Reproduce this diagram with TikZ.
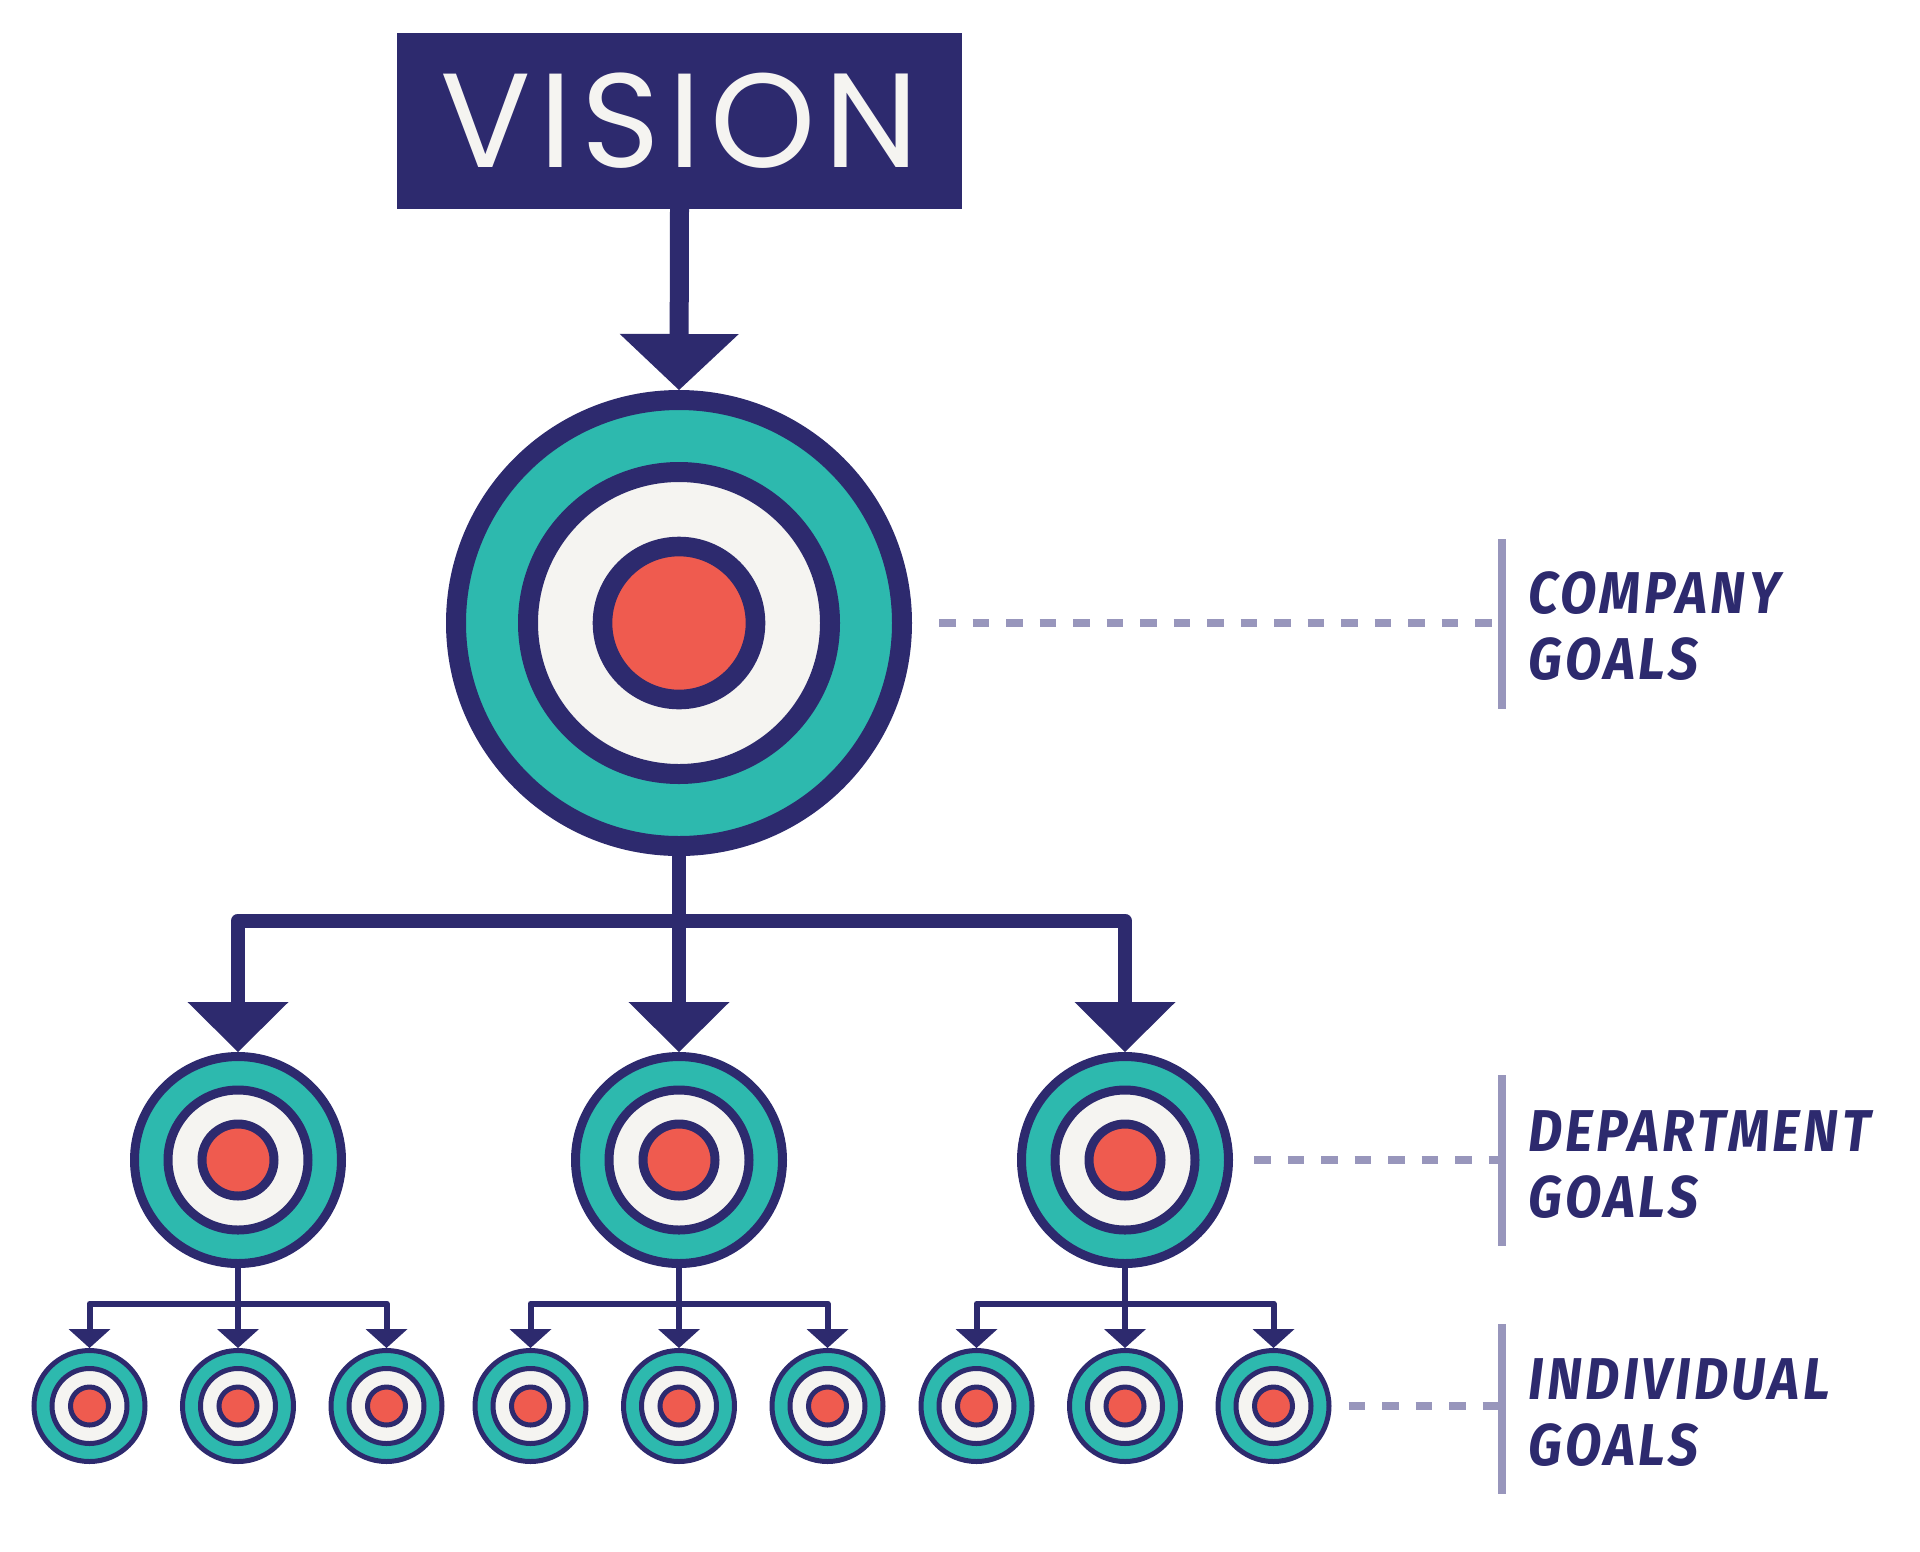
\documentclass[tikz,border=0pt]{standalone}
\usepackage{fontspec}
\usetikzlibrary{arrows.meta}
\newfontfamily\visionfont{Poppins}[LetterSpace=6.5]
\newfontfamily\goalfont{Fira Sans}[FakeStretch=0.9,LetterSpace=6]
\definecolor{navy}{HTML}{2D2A6E}
\definecolor{goalteal}{HTML}{2DB9AE}
\definecolor{offwhite}{HTML}{F5F4F1}
\definecolor{coral}{HTML}{EF5B4F}
\definecolor{lavender}{HTML}{9896BC}
\begin{document}
\begin{tikzpicture}[x=1pt,y=-1pt,
    target/.style={circle,draw=navy,fill=goalteal,inner sep=0pt},
    ring/.style={circle,draw=navy,fill=offwhite,inner sep=0pt},
    core/.style={circle,draw=navy,fill=coral,inner sep=0pt},
    bigarrow/.style={draw=navy,line width=19pt,-{Triangle[width=119pt,length=56pt,line width=0pt]}},
    midarrow/.style={draw=navy,line width=14pt,line join=round,-{Triangle[width=101pt,length=50pt,line width=0pt]}},
    smallarrow/.style={draw=navy,line width=6pt,line join=round,-{Triangle[width=42pt,length=19pt,line width=0pt]}},
    dashline/.style={draw=lavender,line width=8pt,dash pattern=on 16.5pt off 17pt},
    barline/.style={draw=lavender,line width=8pt},
    goaltext/.style={anchor=west,align=left,inner sep=0pt,text=navy,font=\goalfont\bfseries\itshape\fontsize{59}{66}\selectfont}]
  \fill[white] (0,0) rectangle (1920,1551);
  \useasboundingbox (0,0) rectangle (1920,1551);
  \node[fill=navy,minimum width=565pt,minimum height=176pt,text=offwhite,font=\visionfont\fontsize{134}{134}\selectfont] (vision) at (679.5,121) {VISION};
  \node[target,line width=20pt,minimum size=446pt] (comp) at (679,623) {};
  \node[ring,line width=20pt,minimum size=302pt] (compmid) at (679,623) {};
  \node[core,line width=19.6pt,minimum size=153pt] (compcore) at (679,623) {};
  \draw[bigarrow] (vision.south) -- (comp.north);
  \foreach \d/\x in {1/238,2/679,3/1125} {
    \node[target,line width=9pt,minimum size=207pt] (dept\d) at (\x,1160) {};
    \node[ring,line width=9pt,minimum size=140pt] (dept\d mid) at (\x,1160) {};
    \node[core,line width=9pt,minimum size=72pt] (dept\d core) at (\x,1160) {};
  }
  \coordinate (bus) at (679,920.5);
  \draw[midarrow] (comp.south) -- (dept2.north);
  \draw[midarrow] (bus) -| (dept1.north);
  \draw[midarrow] (bus) -| (dept3.north);
  \foreach \n/\x in {1/89.5,2/238,3/386.5,4/530.5,5/679,6/827.5,7/976.5,8/1125,9/1273.5} {
    \node[target,line width=5pt,minimum size=111pt] (ind\n) at (\x,1406) {};
    \node[ring,line width=5pt,minimum size=75pt] (ind\n mid) at (\x,1406) {};
    \node[core,line width=5pt,minimum size=38pt] (ind\n core) at (\x,1406) {};
  }
  \foreach \d/\a/\b/\c in {1/1/2/3,2/4/5/6,3/7/8/9} {
    \coordinate (fork\d) at ([yshift=-35.5pt]dept\d.south);
    \draw[smallarrow] (dept\d.south) -- (ind\b.north);
    \draw[smallarrow] (fork\d) -| (ind\a.north);
    \draw[smallarrow] (fork\d) -| (ind\c.north);
  }
  \coordinate (bar) at (1502,0);
  \draw[dashline] ([xshift=27pt]comp.east) -- (comp.east -| bar);
  \draw[dashline] ([xshift=21pt]dept3.east) -- (dept3.east -| bar);
  \draw[dashline] ([xshift=17pt]ind9.east) -- (ind9.east -| bar);
  \draw[barline] (1502,539) -- (1502,709);
  \draw[barline] (1502,1075) -- (1502,1246);
  \draw[barline] (1502,1324) -- (1502,1494);
  \node[goaltext] (compgoals) at (1528,626) {COMPANY\\GOALS};
  \node[goaltext] (deptgoals) at (1528,1165) {DEPARTMENT\\GOALS};
  \node[goaltext] (indgoals) at (1528,1413) {INDIVIDUAL\\GOALS};
\end{tikzpicture}
\end{document}
